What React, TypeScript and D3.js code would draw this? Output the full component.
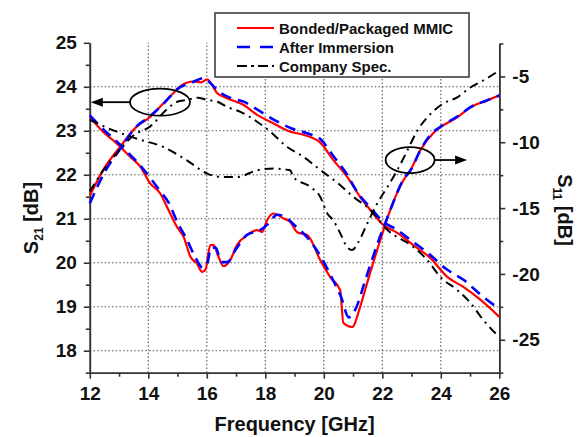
import React, { useRef, useEffect } from "react";
import * as d3 from "d3";

type Pt = [number, number];

// axis ticks
const freqTicks = [12, 14, 16, 18, 20, 22, 24, 26];
const s21Ticks = [18, 19, 20, 21, 22, 23, 24, 25];
const s11Ticks = [-25, -20, -15, -10, -5];
const legendLabels = ["Bonded/Packaged MMIC", "After Immersion", "Company Spec."];

// S21 (left axis) [GHz, dB]
const s21Bonded: Pt[] = [
  [12.0, 21.52], [12.46, 22.11], [13.04, 22.64], [13.61, 23.1], [14.07, 23.32], [14.41, 23.55],
  [14.75, 23.78], [15.09, 24.01], [15.54, 24.12], [15.8, 24.1], [16.01, 24.17], [16.35, 23.86],
  [16.69, 23.74], [17.25, 23.59], [17.72, 23.36], [18.27, 23.17], [18.85, 22.98], [19.3, 22.91],
  [19.88, 22.73], [20.32, 22.34], [20.8, 21.95], [21.24, 21.5], [21.59, 21.2], [22.03, 20.86],
  [22.51, 20.68], [23.06, 20.4], [23.64, 20.11], [24.22, 19.68], [24.77, 19.45], [25.35, 19.16],
  [26.0, 18.77],
];
const s21Immersion: Pt[] = [
  [12.0, 21.35], [12.5, 22.05], [13.0, 22.55], [13.6, 23.1], [14.0, 23.3], [14.5, 23.6],
  [15.0, 23.95], [15.5, 24.1], [15.9, 24.2], [16.1, 24.1], [16.4, 23.9], [16.8, 23.75],
  [17.3, 23.65], [17.8, 23.45], [18.3, 23.25], [18.9, 23.05], [19.4, 22.95], [19.9, 22.8],
  [20.3, 22.45], [20.8, 22.0], [21.2, 21.55], [21.6, 21.25], [22.0, 20.95], [22.5, 20.75],
  [23.0, 20.5], [23.6, 20.2], [24.2, 19.85], [24.8, 19.6], [25.4, 19.25], [26.0, 18.95],
];
const s21Spec: Pt[] = [
  [12.0, 21.62], [12.46, 22.1], [13.0, 22.55], [13.5, 22.9], [14.07, 23.1], [14.65, 23.5],
  [14.99, 23.66], [15.33, 23.7], [15.68, 23.75], [16.02, 23.7], [16.36, 23.66], [16.7, 23.54],
  [17.15, 23.43], [17.73, 23.2], [18.17, 22.98], [18.75, 22.63], [19.3, 22.41], [19.88, 22.11],
  [20.46, 21.82], [21.01, 21.5], [21.59, 21.2], [22.17, 20.75], [23.06, 20.36], [23.54, 20.06],
  [23.98, 19.68], [24.56, 19.38], [25.01, 19.09], [25.45, 18.7], [26.0, 18.31],
];

// S11 (right axis) [GHz, dB]
const s11Bonded: Pt[] = [
  [12.0, -8.09], [12.46, -9.22], [12.93, -10.1], [13.38, -11.1], [13.73, -11.86], [14.07, -13.14],
  [14.41, -13.89], [14.64, -14.91], [14.98, -16.43], [15.21, -17.19], [15.44, -18.7], [15.66, -19.2],
  [15.84, -19.84], [15.95, -19.71], [16.12, -17.81], [16.23, -17.81], [16.4, -18.7], [16.57, -19.41],
  [16.8, -18.95], [17.03, -17.81], [17.37, -17.06], [17.72, -16.68], [17.89, -16.81], [18.06, -15.92],
  [18.28, -15.41], [18.63, -15.79], [18.85, -16.05], [19.09, -16.83], [19.44, -17.06], [19.88, -18.95],
  [20.22, -20.24], [20.56, -21.23], [20.67, -23.73], [20.97, -24.03], [21.24, -22.52], [21.48, -20.7],
  [21.93, -17.44], [22.27, -15.16], [22.72, -12.89], [22.96, -12.13], [23.3, -10.61], [23.74, -9.32],
  [23.98, -8.87], [24.56, -8.11], [25.01, -7.35], [25.59, -6.82], [26.0, -6.44],
];
const s11Immersion: Pt[] = [
  [12.0, -7.96], [12.5, -9.1], [13.0, -10.1], [13.4, -11.0], [13.7, -11.7], [14.1, -12.8],
  [14.4, -13.7], [14.7, -14.6], [15.0, -16.1], [15.3, -17.3], [15.6, -18.7], [15.85, -19.5],
  [16.0, -19.3], [16.15, -18.0], [16.3, -18.0], [16.5, -19.1], [16.7, -19.1], [17.0, -18.1],
  [17.4, -17.0], [17.8, -16.7], [18.1, -16.2], [18.4, -15.5], [18.7, -15.7], [19.0, -16.3],
  [19.5, -17.4], [19.9, -18.7], [20.3, -20.4], [20.6, -21.8], [20.85, -23.3], [21.1, -22.6],
  [21.4, -20.6], [21.9, -17.3], [22.3, -15.0], [22.7, -12.9], [23.0, -12.0], [23.3, -10.6],
  [23.7, -9.3], [24.0, -8.8], [24.6, -8.0], [25.0, -7.35], [25.6, -6.8], [26.0, -6.45],
];
const s11Spec: Pt[] = [
  [12.0, -8.3], [12.81, -9.1], [13.61, -9.73], [14.52, -10.37], [15.32, -11.37], [16.01, -12.38],
  [16.57, -12.64], [17.03, -12.64], [17.72, -12.13], [18.28, -12.0], [18.85, -12.13], [18.96, -12.64],
  [19.54, -13.39], [19.88, -14.15], [20.12, -15.41], [20.32, -15.92], [20.56, -16.9], [20.8, -17.97],
  [20.97, -18.19], [21.18, -17.59], [21.49, -16.15], [21.83, -14.63], [22.17, -13.42], [22.51, -12.13],
  [22.86, -10.61], [23.2, -9.1], [23.54, -8.11], [24.09, -7.05], [24.56, -6.59], [25.01, -5.84],
  [25.45, -5.31], [26.0, -4.55],
];

const FONT = "'Liberation Sans', Arial, Helvetica, sans-serif";
const RED = "#ff0000";
const BLUE = "#0000ff";
const BLACK = "#000000";

function App() {
  const svgRef = useRef<SVGSVGElement>(null);

  useEffect(() => {
    const svg = d3.select(svgRef.current);
    svg.selectAll("*").remove();

    const x = d3.scaleLinear().domain([12, 26]).range([89.8, 499.3]);
    const yL = d3.scaleLinear().domain([17.5, 25]).range([372.7, 42.8]);
    const yR = d3.scaleLinear().domain([-27.5, -2.5]).range([372.7, 43.5]);

    // dotted grid
    const grid = svg.append("g").attr("stroke", "#555").attr("stroke-width", 1.1)
      .attr("stroke-dasharray", "1.5 2.2");
    grid.selectAll(".h").data(s21Ticks.filter(t => t < 25)).join("line")
      .attr("x1", x(12)).attr("x2", x(26)).attr("y1", d => yL(d)).attr("y2", d => yL(d));
    grid.selectAll(".v").data(freqTicks.slice(1, -1)).join("line")
      .attr("x1", d => x(d)).attr("x2", d => x(d)).attr("y1", yL(17.5)).attr("y2", yL(25));

    const styleAxis = (g: any) => {
      g.attr("font-family", FONT).attr("font-size", 19).attr("font-weight", "bold");
      g.select(".domain").attr("stroke", "#333").attr("stroke-width", 1.6);
      g.selectAll(".tick line").attr("stroke", "#333").attr("stroke-width", 1.6);
      g.selectAll("text").style("font-family", FONT).style("font-weight", "bold")
        .style("font-size", "19px").attr("fill", "#111");
    };
    const plain = (d: any) => String(d);

    // minor ticks
    const minorX = d3.range(13, 26, 2);
    const minorL = d3.range(17.5, 25, 1);
    const minorR = d3.range(-27.5, -2, 5);

    svg.append("g").attr("transform", `translate(0,${yL(17.5)})`)
      .call(d3.axisBottom(x).tickValues(minorX).tickSize(4).tickSizeOuter(0).tickFormat(() => ""))
      .call(styleAxis);
    svg.append("g").attr("transform", `translate(${x(12)},0)`)
      .call(d3.axisLeft(yL).tickValues(minorL).tickSize(4).tickSizeOuter(0).tickFormat(() => ""))
      .call(styleAxis);
    svg.append("g").attr("transform", `translate(${x(26)},0)`)
      .call(d3.axisRight(yR).tickValues(minorR).tickSize(4).tickSizeOuter(0).tickFormat(() => ""))
      .call(styleAxis);

    // major axes
    svg.append("g").attr("transform", `translate(0,${yL(17.5)})`)
      .call(d3.axisBottom(x).tickValues(freqTicks).tickSize(6).tickSizeOuter(0).tickPadding(8).tickFormat(plain))
      .call(styleAxis);
    svg.append("g").attr("transform", `translate(${x(12)},0)`)
      .call(d3.axisLeft(yL).tickValues(s21Ticks).tickSize(6).tickSizeOuter(0).tickPadding(7).tickFormat(plain))
      .call(styleAxis);
    svg.append("g").attr("transform", `translate(${x(26)},0)`)
      .call(d3.axisRight(yR).tickValues(s11Ticks).tickSize(6).tickSizeOuter(0).tickPadding(7).tickFormat(plain))
      .call(styleAxis);

    // curves
    const lineL = d3.line<Pt>().x(d => x(d[0])).y(d => yL(d[1])).curve(d3.curveMonotoneX);
    const lineR = d3.line<Pt>().x(d => x(d[0])).y(d => yR(d[1])).curve(d3.curveMonotoneX);

    const series = [
      { data: s21Bonded, line: lineL, color: RED, dash: null, w: 2.2 },
      { data: s11Bonded, line: lineR, color: RED, dash: null, w: 2.2 },
      { data: s21Immersion, line: lineL, color: BLUE, dash: "11 7", w: 2.6 },
      { data: s11Immersion, line: lineR, color: BLUE, dash: "11 7", w: 2.6 },
      { data: s21Spec, line: lineL, color: BLACK, dash: "9 5 2 5", w: 2 },
      { data: s11Spec, line: lineR, color: BLACK, dash: "9 5 2 5", w: 2 },
    ];
    svg.append("g").selectAll("path").data(series).join("path")
      .attr("d", s => s.line(s.data))
      .attr("fill", "none")
      .attr("stroke", s => s.color)
      .attr("stroke-width", s => s.w)
      .attr("stroke-dasharray", s => s.dash)
      .attr("stroke-linejoin", "round");

    // annotations: ellipses with arrows
    const ann = svg.append("g").attr("stroke", BLACK).attr("stroke-width", 1.8).attr("fill", "none");
    const lcx = x(14.4), lcy = yL(23.65);
    ann.append("ellipse").attr("cx", lcx).attr("cy", lcy).attr("rx", 30).attr("ry", 13.5);
    ann.append("line").attr("x1", lcx - 30).attr("x2", x(12) + 10).attr("y1", lcy).attr("y2", lcy);
    svg.append("path").attr("fill", BLACK)
      .attr("d", `M${x(12) + 1},${lcy} L${x(12) + 13},${lcy - 4.5} L${x(12) + 13},${lcy + 4.5} Z`);
    const rcx = x(22.95), rcy = yR(-11.35);
    ann.append("ellipse").attr("cx", rcx).attr("cy", rcy).attr("rx", 24.5).attr("ry", 13);
    ann.append("line").attr("x1", rcx + 24.5).attr("x2", rcx + 46).attr("y1", rcy).attr("y2", rcy);
    svg.append("path").attr("fill", BLACK)
      .attr("d", `M${rcx + 57},${rcy} L${rcx + 45},${rcy - 4.5} L${rcx + 45},${rcy + 4.5} Z`);

    // legend
    const lg = svg.append("g");
    lg.append("rect").attr("x", 215).attr("y", 13).attr("width", 254).attr("height", 64)
      .attr("fill", "#fff").attr("stroke", "#333").attr("stroke-width", 1.5);
    const legendStyles = [
      { color: RED, dash: null, w: 2.2 },
      { color: BLUE, dash: "13 10", w: 2.6 },
      { color: BLACK, dash: "10 4 3 4", w: 2 },
    ];
    legendLabels.forEach((label, i) => {
      const cy = 28 + i * 19;
      lg.append("line").attr("x1", 237).attr("x2", 274).attr("y1", cy).attr("y2", cy)
        .attr("stroke", legendStyles[i].color).attr("stroke-width", legendStyles[i].w)
        .attr("stroke-dasharray", legendStyles[i].dash);
      lg.append("text").attr("x", 279).attr("y", cy + 5.5).text(label)
        .attr("font-family", FONT).attr("font-weight", "bold").attr("font-size", 15).attr("fill", "#111");
    });

    // axis titles
    svg.append("text").attr("x", (x(12) + x(26)) / 2).attr("y", 431).attr("text-anchor", "middle")
      .attr("font-family", FONT).attr("font-weight", "bold").attr("font-size", 20).attr("fill", "#111")
      .text("Frequency [GHz]");

    const leftTitle = svg.append("text").attr("transform", "translate(38,218) rotate(-90)")
      .attr("text-anchor", "middle").attr("font-family", FONT).attr("font-weight", "bold")
      .attr("font-size", 20).attr("fill", "#111");
    leftTitle.append("tspan").text("S");
    leftTitle.append("tspan").attr("font-size", 12).attr("dy", 5).text("21");
    leftTitle.append("tspan").attr("dy", -5).text(" [dB]");

    const rightTitle = svg.append("text").attr("transform", "translate(558,210) rotate(90)")
      .attr("text-anchor", "middle").attr("font-family", FONT).attr("font-weight", "bold")
      .attr("font-size", 20).attr("fill", "#111");
    rightTitle.append("tspan").text("S");
    rightTitle.append("tspan").attr("font-size", 12).attr("dy", 5).text("11");
    rightTitle.append("tspan").attr("dy", -5).text(" [dB]");
  }, []);

  return (
    <svg ref={svgRef} width={588} height={437}
      style={{ position: "absolute", left: 0, top: 0, background: "#fff" }} />
  );
}

export default App;
